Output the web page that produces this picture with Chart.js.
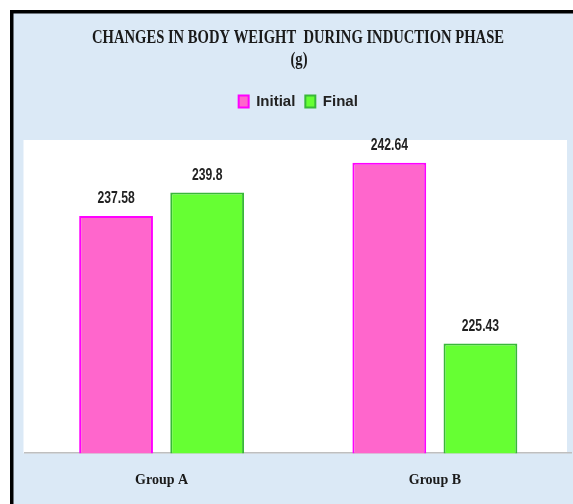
<!DOCTYPE html>
<html>
<head>
<meta charset="utf-8">
<script src="https://cdn.jsdelivr.net/npm/chart.js@4.4.1/dist/chart.umd.min.js"></script>
<style>
  html, body { margin: 0; padding: 0; background: #fff; }
  #wrap { width: 573px; height: 504px; }
</style>
</head>
<body>
<div id="wrap"><canvas id="weight-chart" width="573" height="504"></canvas></div>
<script>
// Chart data
const groups = ['Group A', 'Group B'];
const seriesNames = ['Initial', 'Final'];
const initialWeights = [237.58, 242.64];
const finalWeights = [239.8, 225.43];
const titleLines = ['CHANGES IN BODY WEIGHT  DURING INDUCTION PHASE', '(g)'];

// Paper background, black frame and white plot panel
const backdrop = {
    id: 'backdrop',
    beforeDraw(chart) {
        const {ctx, width, height, chartArea} = chart;
        ctx.save();
        ctx.fillStyle = '#ffffff';
        ctx.fillRect(0, 0, width, height);
        ctx.fillStyle = '#dbe9f6';
        ctx.fillRect(12, 12, width - 12, height - 12);
        ctx.fillStyle = '#000000';
        ctx.fillRect(10, 10, width - 10, 3.5);
        ctx.fillRect(10, 10, 3.5, height - 10);
        ctx.fillStyle = '#ffffff';
        ctx.fillRect(chartArea.left - 1.5, chartArea.top, 567 - chartArea.left + 1.5, chartArea.bottom - chartArea.top);
        ctx.restore();
    }
};

// Title in condensed serif (the original is squeezed horizontally)
const squashedTitle = {
    id: 'squashedTitle',
    afterDraw(chart) {
        const ctx = chart.ctx;
        ctx.save();
        ctx.font = 'bold 18px "Liberation Serif"';
        ctx.fillStyle = '#1a1a1a';
        ctx.textAlign = 'center';
        ctx.textBaseline = 'middle';
        const sx = 412 / ctx.measureText(titleLines[0]).width;
        ctx.scale(sx, 1);
        ctx.fillText(titleLines[0], 298 / sx, 38);
        ctx.fillText(titleLines[1], 299 / sx, 60);
        ctx.restore();
    }
};

// Value labels above each bar, narrowed like the original
const valueLabels = {
    id: 'valueLabels',
    afterDatasetsDraw(chart) {
        const ctx = chart.ctx;
        const sx = 0.76;
        ctx.save();
        ctx.font = 'bold 16px "Liberation Sans"';
        ctx.fillStyle = '#222222';
        ctx.textAlign = 'center';
        ctx.textBaseline = 'middle';
        ctx.scale(sx, 1);
        chart.data.datasets.forEach((ds, i) => {
            chart.getDatasetMeta(i).data.forEach((bar, j) => {
                ctx.fillText(String(ds.data[j]), bar.x / sx, bar.y - 17);
            });
        });
        ctx.restore();
    }
};

// Extra space between legend and plot
const legendGap = {
    id: 'legendGap',
    beforeInit(chart) {
        const fit = chart.legend.fit;
        chart.legend.fit = function () {
            fit.bind(chart.legend)();
            this.height += 21;
        };
    }
};

new Chart(document.getElementById('weight-chart'), {
    type: 'bar',
    data: {
        labels: groups,
        datasets: [
            {
                label: seriesNames[0],
                data: initialWeights,
                backgroundColor: '#ff66cc',
                borderColor: '#ff00ff',
                borderWidth: 2,
                categoryPercentage: 0.667,
                barPercentage: 0.81
            },
            {
                label: seriesNames[1],
                data: finalWeights,
                backgroundColor: '#66ff33',
                borderColor: '#38b838',
                borderWidth: 2,
                categoryPercentage: 0.667,
                barPercentage: 0.81
            }
        ]
    },
    options: {
        responsive: false,
        animation: false,
        layout: {
            padding: {top: 84, left: 25, right: 1.5, bottom: -3}
        },
        scales: {
            x: {
                grid: {display: false, drawTicks: false},
                border: {display: true, color: '#bfbfbf', width: 1.5},
                ticks: {
                    padding: 18.5,
                    color: '#1a1a1a',
                    font: {family: '"Liberation Serif"', size: 14, weight: 'bold'}
                }
            },
            y: {
                display: false,
                min: 215,
                max: 244.8
            }
        },
        plugins: {
            title: {display: false},
            tooltip: {enabled: false},
            legend: {
                position: 'top',
                labels: {
                    boxWidth: 10,
                    boxHeight: 12,
                    padding: 10,
                    color: '#222222',
                    font: {family: '"Liberation Sans"', size: 15, weight: 'bold'}
                }
            }
        }
    },
    plugins: [backdrop, squashedTitle, valueLabels, legendGap]
});
</script>
</body>
</html>
